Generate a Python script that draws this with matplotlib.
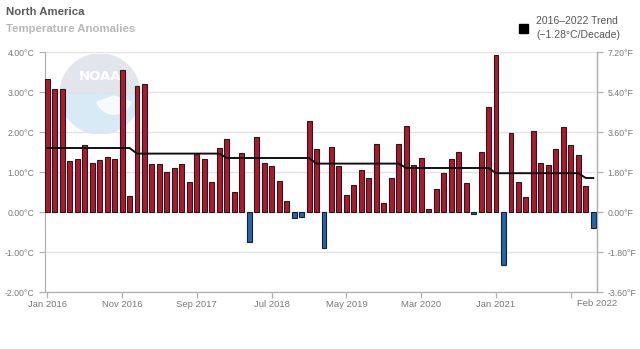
# ============================================================
# North America monthly temperature anomalies, Jan 2016 - Feb 2022
# ============================================================

import numpy as np
import matplotlib
matplotlib.use("Agg")
import matplotlib.pyplot as plt
from matplotlib.patches import Wedge

# ------------------------------------------------------------
# 1. DATA
# ------------------------------------------------------------

# monthly anomalies in degC, Jan 2016 .. Feb 2022 (74 months)
anomalies = [
    3.32, 3.08, 3.08, 1.28, 1.33, 1.68, 1.23, 1.30, 1.38, 1.32, 3.56, 0.40,   # 2016
    3.15, 3.19, 1.21, 1.21, 1.01, 1.10, 1.21, 0.75, 1.45, 1.33, 0.75, 1.60,   # 2017
    1.82, 0.51, 1.48, -0.74, 1.88, 1.22, 1.16, 0.77, 0.28, -0.14, -0.12, 2.27,  # 2018
    1.58, -0.91, 1.63, 1.16, 0.42, 0.68, 1.04, 0.84, 1.71, 0.22, 0.84, 1.71,  # 2019
    2.14, 1.18, 1.36, 0.07, 0.58, 0.97, 1.33, 1.49, 0.73, -0.04, 1.49, 2.62,  # 2020
    3.93, -1.33, 1.97, 0.75, 0.37, 2.02, 1.23, 1.18, 1.58, 2.12, 1.67, 1.43,  # 2021
    0.64, -0.39,                                                              # 2022
]

# trend line level for each year and number of months it covers
trend_levels = [1.60, 1.46, 1.35, 1.21, 1.10, 0.97, 0.85]
trend_months = [12, 12, 12, 12, 12, 12, 2]

tick_pos = [0, 10, 20, 30, 40, 50, 60, 70]
tick_labels = ["Jan 2016", "Nov 2016", "Sep 2017", "Jul 2018",
               "May 2019", "Mar 2020", "Jan 2021", ""]
last_label = "Feb 2022"

c_ticks = [-2, -1, 0, 1, 2, 3, 4]
f_ticks = [-3.6, -1.8, 0.0, 1.8, 3.6, 5.4, 7.2]

# ------------------------------------------------------------
# 2. FIGURE
# ------------------------------------------------------------

plt.rcParams["font.family"] = ["Liberation Sans", "DejaVu Sans"]

x = np.arange(len(anomalies))
vals = np.array(anomalies)
trend = np.repeat(trend_levels, trend_months)

fig = plt.figure(figsize=(6.4, 3.49), dpi=100)

# faint NOAA watermark behind the plot
W, H = 640, 349
logo = fig.add_axes([60 / W, 1 - 134 / H, 80 / W, 80 / H], zorder=0)
logo.set_xlim(-1, 1)
logo.set_ylim(-1, 1)
logo.set_aspect("equal")
logo.axis("off")
logo.add_patch(Wedge((0, 0), 1, 0, 180, color="#e2e6ec"))
logo.add_patch(Wedge((0, 0), 1, 180, 360, color="#d8eaf6"))
logo.add_patch(Wedge((0, 0.02), 1, -20, 0, color="#d8eaf6"))
logo.add_patch(Wedge((0, 0.02), 1, 180, 200, color="#d8eaf6"))
logo.add_patch(Wedge((0.35, -0.05), 0.45, 200, 340, color="white", alpha=0.8))
logo.text(0, 0.45, "NOAA", ha="center", va="center", color="white",
          fontsize=9.5, fontweight="bold", family="DejaVu Sans")

ax = fig.add_axes([45 / W, 1 - 292 / H, 552 / W, 240 / H], zorder=1)
ax.patch.set_alpha(0)

colors = ["#b0192d" if v >= 0 else "#2266b0" for v in vals]
ax.bar(x, vals, width=0.66, color=colors, edgecolor="#1e1e1e",
       linewidth=0.8, zorder=3)
ax.plot(x, trend, color="#111111", linewidth=1.4, zorder=4)

ax.set_xlim(-0.3, 73.5)
ax.set_ylim(-2, 4)
ax.set_yticks(c_ticks)
ax.set_yticklabels([f"{t:.2f}°C" for t in c_ticks])
ax.set_xticks(tick_pos)
ax.set_xticklabels(tick_labels)
ax.grid(axis="y", color="#e3e3e3", linewidth=1.0, zorder=0)

ax.spines["top"].set_visible(False)
for side in ["left", "bottom", "right"]:
    ax.spines[side].set_color("#b0b0b0")
    ax.spines[side].set_linewidth(0.9)

ax.tick_params(axis="both", colors="#b0b0b0", labelcolor="#777777",
               labelsize=6.3, length=4, width=0.9)
ax.tick_params(axis="x", pad=2, labelsize=6.8)

ax2 = ax.twinx()
ax2.set_ylim(-3.6, 7.2)
ax2.set_yticks(f_ticks)
ax2.set_yticklabels([f"{t:.2f}°F" for t in f_ticks])
for side in ["top", "left", "bottom"]:
    ax2.spines[side].set_visible(False)
ax2.spines["right"].set_color("#b0b0b0")
ax2.spines["right"].set_linewidth(0.9)
ax2.tick_params(axis="y", colors="#b0b0b0", labelcolor="#777777",
                labelsize=6.3, length=4, width=0.9)

ax.text(1.0, -0.03, last_label, transform=ax.transAxes, ha="center",
        va="top", fontsize=6.8, color="#777777")

# ------------------------------------------------------------
# 3. TITLES AND LEGEND
# ------------------------------------------------------------

fig.text(6 / W, 1 - 12 / H, "North America", fontsize=8.2,
         fontweight="bold", color="#5a5a5a", va="center", ha="left")
fig.text(6 / W, 1 - 29 / H, "Temperature Anomalies", fontsize=8.2,
         fontweight="bold", color="#b8b8b8", va="center", ha="left")

fig.patches.append(plt.Rectangle((519 / W, 1 - 33 / H), 9 / W, 9 / H,
                                 transform=fig.transFigure, color="black"))
fig.text(536 / W, 1 - 21 / H, "2016–2022 Trend", fontsize=7.5,
         color="#555555", va="center", ha="left")
fig.text(536 / W, 1 - 35 / H, "(−1.28°C/Decade)", fontsize=7.5,
         color="#555555", va="center", ha="left")

plt.savefig("out.png", dpi=100)
plt.close()

print("Saved out.png")
